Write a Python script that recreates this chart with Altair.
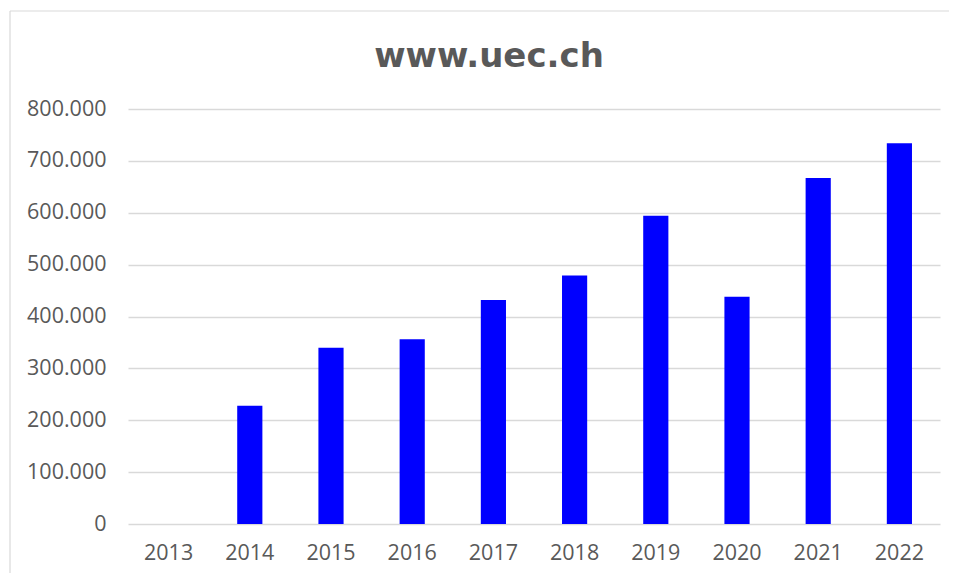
import altair as alt
import pandas as pd

title_text = "www.uec.ch"
years = ["2013", "2014", "2015", "2016", "2017", "2018", "2019", "2020", "2021", "2022"]
values = [0, 228000, 340000, 356000, 432000, 479000, 594000, 438000, 667000, 734000]
y_ticks = [0, 100000, 200000, 300000, 400000, 500000, 600000, 700000, 800000]

df = pd.DataFrame({"year": years, "value": values})

bars = alt.Chart(df).mark_bar(color="#0000FF").encode(
    x=alt.X("year:N", sort=years, title=None,
            scale=alt.Scale(paddingInner=0.69, paddingOuter=0.345),
            axis=alt.Axis(labelAngle=0, ticks=False, domain=False, grid=False,
                          labelFont="Open Sans", labelFontSize=21.5, labelColor="#595959",
                          labelPadding=18)),
    y=alt.Y("value:Q", title=None,
            scale=alt.Scale(domain=[0, 800000], nice=False),
            axis=alt.Axis(values=y_ticks, ticks=False, domain=False,
                          gridColor="#d9d9d9", gridWidth=1.4,
                          labelFont="Open Sans", labelFontSize=21.5, labelColor="#595959",
                          labelPadding=22,
                          labelExpr="replace(format(datum.value, ','), ',', '.')")),
)

one = pd.DataFrame({"a": [0]})
border_top = alt.Chart(one).mark_rule(color="#d9d9d9", strokeWidth=1.2).encode(
    x=alt.value(-118), x2=alt.value(821), y=alt.value(-98)
)
border_left = alt.Chart(one).mark_rule(color="#d9d9d9", strokeWidth=1.2).encode(
    x=alt.value(-118), y=alt.value(-98), y2=alt.value(465)
)

title = alt.Chart(pd.DataFrame({"t": [title_text]})).mark_text(
    font="DejaVu Sans", fontSize=34, fontWeight="bold", color="#595959",
    align="center", baseline="alphabetic"
).encode(
    text="t:N", x=alt.value(361), y=alt.value(-42)
)

chart = alt.layer(border_top, border_left, bars, title).properties(
    width=812,
    height=415,
    padding={"left": 120, "top": 101, "right": 9, "bottom": 49},
    autosize=alt.AutoSizeParams(type="none"),
).configure_view(stroke=None)

chart.save("out.html", embed_options={"renderer": "svg", "actions": False})
